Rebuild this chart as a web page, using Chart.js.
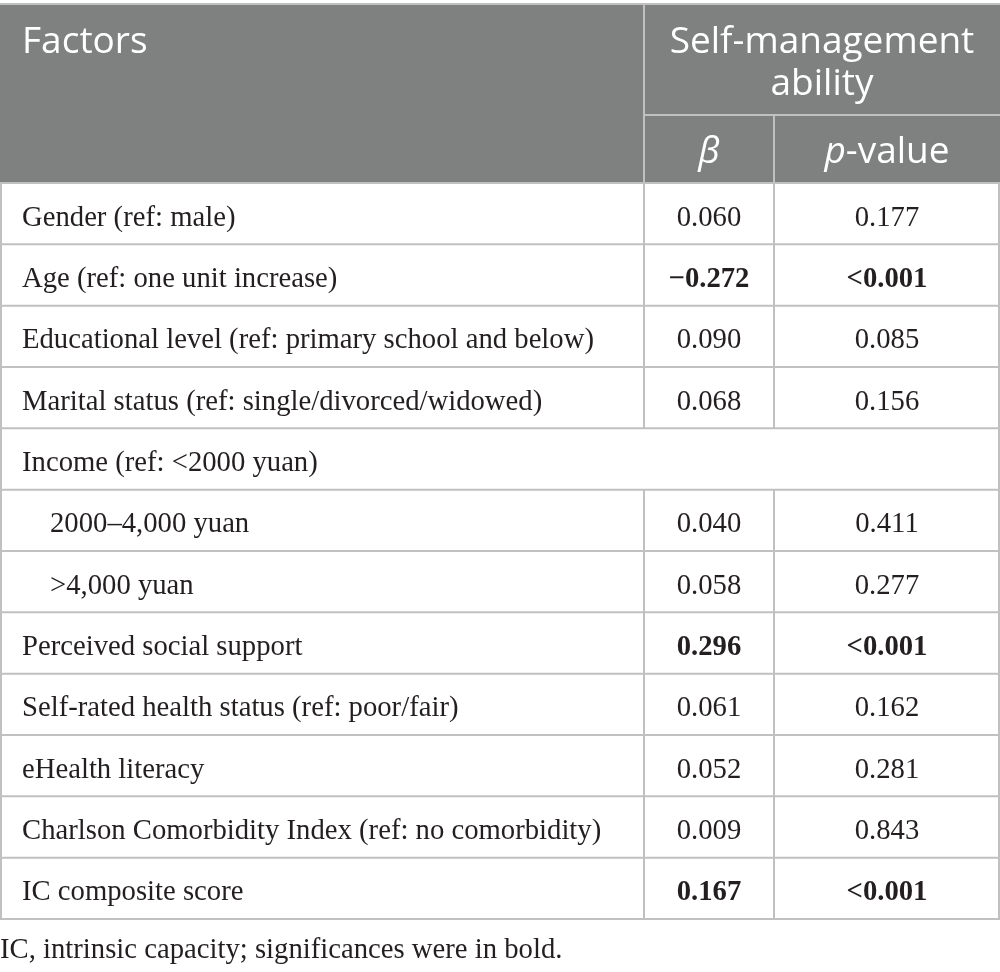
<!DOCTYPE html>
<html>
<head>
<meta charset="utf-8">
<title>Self-management ability</title>
<script src="https://cdn.jsdelivr.net/npm/chart.js@4.4.1/dist/chart.umd.min.js"></script>
<style>
  html, body { margin: 0; padding: 0; background: #fff; }
  #wrap { width: 1000px; height: 972px; }
</style>
</head>
<body>
<div id="wrap"><canvas id="tbl" width="1000" height="972"></canvas></div>
<script>
// ── Data ─────────────────────────────────────────────────
const factors = [
  'Gender (ref: male)',
  'Age (ref: one unit increase)',
  'Educational level (ref: primary school and below)',
  'Marital status (ref: single/divorced/widowed)',
  'Income (ref: <2000 yuan)',
  '2000–4,000 yuan',
  '>4,000 yuan',
  'Perceived social support',
  'Self-rated health status (ref: poor/fair)',
  'eHealth literacy',
  'Charlson Comorbidity Index (ref: no comorbidity)',
  'IC composite score',
];
const subItem  = [0, 0, 0, 0, 0, 1, 1, 0, 0, 0, 0, 0];
const betas    = [0.060, -0.272, 0.090, 0.068, null, 0.040, 0.058, 0.296, 0.061, 0.052, 0.009, 0.167];
const pValues  = ['0.177', '<0.001', '0.085', '0.156', null, '0.411', '0.277', '<0.001', '0.162', '0.281', '0.843', '<0.001'];
const groupHeader = ['Self-management', 'ability'];
const colHeaders  = ['β', 'p-value'];
const footnote = 'IC, intrinsic capacity; significances were in bold.';

// ── Layout ───────────────────────────────────────────────
const COL_EDGES = [0, 644, 774, 1000];      // x-scale units
const BETA_X = (COL_EDGES[1] + COL_EDGES[2]) / 2;
const P_X    = (COL_EDGES[2] + COL_EDGES[3]) / 2;
const HEAD_TOP = 4, HEAD_MID = 115, HEAD_BOT = 183, TABLE_BOT = 919;
const GRID = '#c0c0c0', HEAD_BG = '#7f8080', INK = '#231f20';
const SANS = '"Open Sans", "Noto Sans", sans-serif';
const SERIF = '"Liberation Serif", "DejaVu Serif", serif';
const BODY_PX = 28.7, HEAD_PX = 37;

const fmtBeta = v => (v < 0 ? '−' : '') + Math.abs(v).toFixed(3);
const isSig = i => pValues[i] && pValues[i].startsWith('<');

function hLine(ctx, x1, x2, y) {
  ctx.beginPath(); ctx.moveTo(x1, y); ctx.lineTo(x2, y); ctx.stroke();
}
function vLine(ctx, x, y1, y2) {
  ctx.beginPath(); ctx.moveTo(x, y1); ctx.lineTo(x, y2); ctx.stroke();
}

const tablePlugin = {
  id: 'tablePlugin',
  beforeDraw(chart) {
    const ctx = chart.ctx;
    ctx.save();
    ctx.fillStyle = '#fff';
    ctx.fillRect(0, 0, chart.width, chart.height);
    ctx.fillStyle = HEAD_BG;
    ctx.fillRect(0, HEAD_TOP, chart.width, HEAD_BOT - HEAD_TOP);
    ctx.restore();
  },
  afterDatasetsDraw(chart) {
    const { ctx, scales: { x, y } } = chart;
    const left = x.getPixelForValue(COL_EDGES[0]);
    const right = x.getPixelForValue(COL_EDGES[3]);
    const c1 = x.getPixelForValue(COL_EDGES[1]);
    const c2 = x.getPixelForValue(COL_EDGES[2]);
    ctx.save();

    // grid
    ctx.strokeStyle = GRID;
    ctx.lineWidth = 2;
    hLine(ctx, left, right, HEAD_TOP);
    hLine(ctx, c1, right, HEAD_MID);
    vLine(ctx, c1, HEAD_TOP, HEAD_BOT);
    vLine(ctx, c2, HEAD_MID, HEAD_BOT);
    for (let i = 0; i <= factors.length; i++) {
      hLine(ctx, left, right, y.getPixelForValue(i - 0.5));
    }
    factors.forEach((f, i) => {
      const top = y.getPixelForValue(i - 0.5), bot = y.getPixelForValue(i + 0.5);
      vLine(ctx, left + 1, top, bot);
      vLine(ctx, right - 1, top, bot);
      if (betas[i] !== null) {
        vLine(ctx, c1, top, bot);
        vLine(ctx, c2, top, bot);
      }
    });

    // header text
    ctx.fillStyle = '#fff';
    ctx.textBaseline = 'alphabetic';
    ctx.font = `400 ${HEAD_PX}px ${SANS}`;
    ctx.textAlign = 'left';
    ctx.fillText('Factors', 22, 53);
    ctx.textAlign = 'center';
    const gx = (c1 + right) / 2;
    ctx.fillText(groupHeader[0], gx, 53);
    ctx.fillText(groupHeader[1], gx, 95);
    ctx.font = `italic 400 ${HEAD_PX}px ${SANS}`;
    ctx.fillText(colHeaders[0], x.getPixelForValue(BETA_X), 163);
    // p-value: italic "p" + upright rest
    const px = x.getPixelForValue(P_X);
    const wP = ctx.measureText('p').width;
    ctx.font = `400 ${HEAD_PX}px ${SANS}`;
    const rest = colHeaders[1].slice(1);
    const wR = ctx.measureText(rest).width;
    ctx.textAlign = 'left';
    const sx = px - (wP + wR) / 2;
    ctx.font = `italic 400 ${HEAD_PX}px ${SANS}`;
    ctx.fillText('p', sx, 163);
    ctx.font = `400 ${HEAD_PX}px ${SANS}`;
    ctx.fillText(rest, sx + wP, 163);

    // body text
    ctx.fillStyle = INK;
    factors.forEach((f, i) => {
      const cy = y.getPixelForValue(i);
      ctx.textAlign = 'left';
      ctx.font = `400 ${BODY_PX}px ${SERIF}`;
      ctx.fillText(f, subItem[i] ? 50 : 22, cy + 12);
    });
    const betaMeta = chart.getDatasetMeta(0), pMeta = chart.getDatasetMeta(1);
    ctx.textAlign = 'center';
    betaMeta.data.forEach((pt, i) => {
      if (betas[i] === null) return;
      ctx.font = `${isSig(i) ? 700 : 400} ${BODY_PX}px ${SERIF}`;
      ctx.fillText(fmtBeta(betas[i]), pt.x, pt.y + 12);
    });
    pMeta.data.forEach((pt, i) => {
      if (pValues[i] === null) return;
      ctx.font = `${isSig(i) ? 700 : 400} ${BODY_PX}px ${SERIF}`;
      ctx.fillText(pValues[i], pt.x, pt.y + 12);
    });

    // footnote
    ctx.textAlign = 'left';
    ctx.font = `400 ${BODY_PX}px ${SERIF}`;
    ctx.fillText(footnote, 0, 958);
    ctx.restore();
  },
};

new Chart(document.getElementById('tbl'), {
  type: 'scatter',
  data: {
    labels: factors,
    datasets: [
      { label: 'β', data: betas.map((b, i) => ({ x: BETA_X, y: i })), pointRadius: 0 },
      { label: 'p-value', data: pValues.map((p, i) => ({ x: P_X, y: i })), pointRadius: 0 },
    ],
  },
  options: {
    responsive: false,
    animation: false,
    events: [],
    layout: { padding: { top: HEAD_BOT, bottom: 972 - TABLE_BOT, left: 0, right: 0 } },
    scales: {
      x: { type: 'linear', min: COL_EDGES[0], max: COL_EDGES[3], display: false },
      y: { type: 'category', labels: factors, offset: true, display: false },
    },
    plugins: { legend: { display: false }, tooltip: { enabled: false } },
  },
  plugins: [tablePlugin],
});
</script>
</body>
</html>
